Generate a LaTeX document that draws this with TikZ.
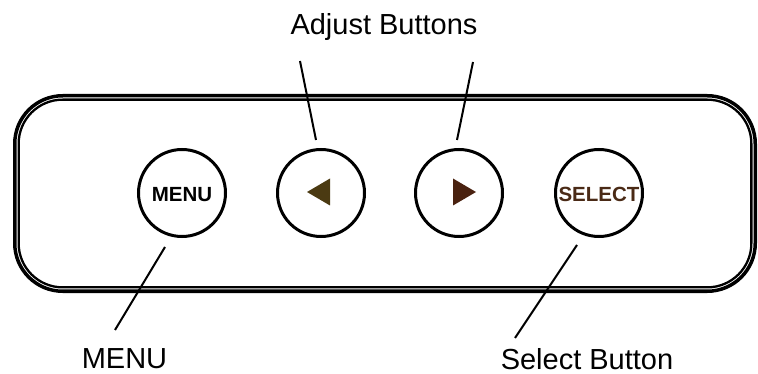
\documentclass[tikz,border=0pt]{standalone}
\usepackage{fontspec}
\setmainfont{Liberation Sans}
\definecolor{btnbrown}{HTML}{4A2A16}
\definecolor{olivebrown}{HTML}{4B3A12}
\definecolor{redbrown}{HTML}{4A2210}
\begin{document}
\begin{tikzpicture}[x=1pt,y=-1pt,
  btn/.style={circle,draw=black,line width=3pt,minimum size=87pt,inner sep=0pt},
  leader/.style={draw=black,line width=2pt},
  lbl/.style={font=\fontsize{29}{30}\selectfont,anchor=base,inner sep=0pt},
  btnlbl/.style={font=\fontsize{20.5}{22}\selectfont\bfseries,anchor=base,inner sep=0pt},
  tri/.style={line width=0pt}
]
\useasboundingbox (0,0) rectangle (758,374);
% panel outline (double line)
\draw[line width=3.5pt,rounded corners=48pt] (14.75,95.75) rectangle (755.25,291.25);
\draw[line width=2.3pt,rounded corners=44pt] (18.65,99.65) rectangle (751.35,287.35);
% buttons
\node[btn] (menu) at (182,193) {};
\node[btn] (left) at (321,193) {};
\node[btn] (right) at (459,193) {};
\node[btn] (select) at (599,193) {};
\node[btnlbl] (menutxt) at (182,202) {MENU};
\node[btnlbl,text=btnbrown] (selecttxt) at (599,202) {SELECT};
\fill[olivebrown] (307,192) -- (330,178.5) -- (330,205.5) -- cycle;
\fill[redbrown] (476,192) -- (453,178.5) -- (453,205.5) -- cycle;
% labels
\node[lbl] (adjust) at (384,35) {Adjust Buttons};
\node[lbl] (menulbl) at (124.5,368) {MENU};
\node[lbl] (selectlbl) at (587,369) {Select Button};
% leader coordinates
\coordinate (al1) at (300,61);
\coordinate (al2) at (316,140);
\coordinate (ar1) at (473,62);
\coordinate (ar2) at (457,140);
\coordinate (m1) at (165,247);
\coordinate (m2) at (115,330);
\coordinate (s1) at (577,245);
\coordinate (s2) at (515,338);
\draw[leader] (al1) -- (al2);
\draw[leader] (ar1) -- (ar2);
\draw[leader] (m1) -- (m2);
\draw[leader] (s1) -- (s2);
\end{tikzpicture}
\end{document}
